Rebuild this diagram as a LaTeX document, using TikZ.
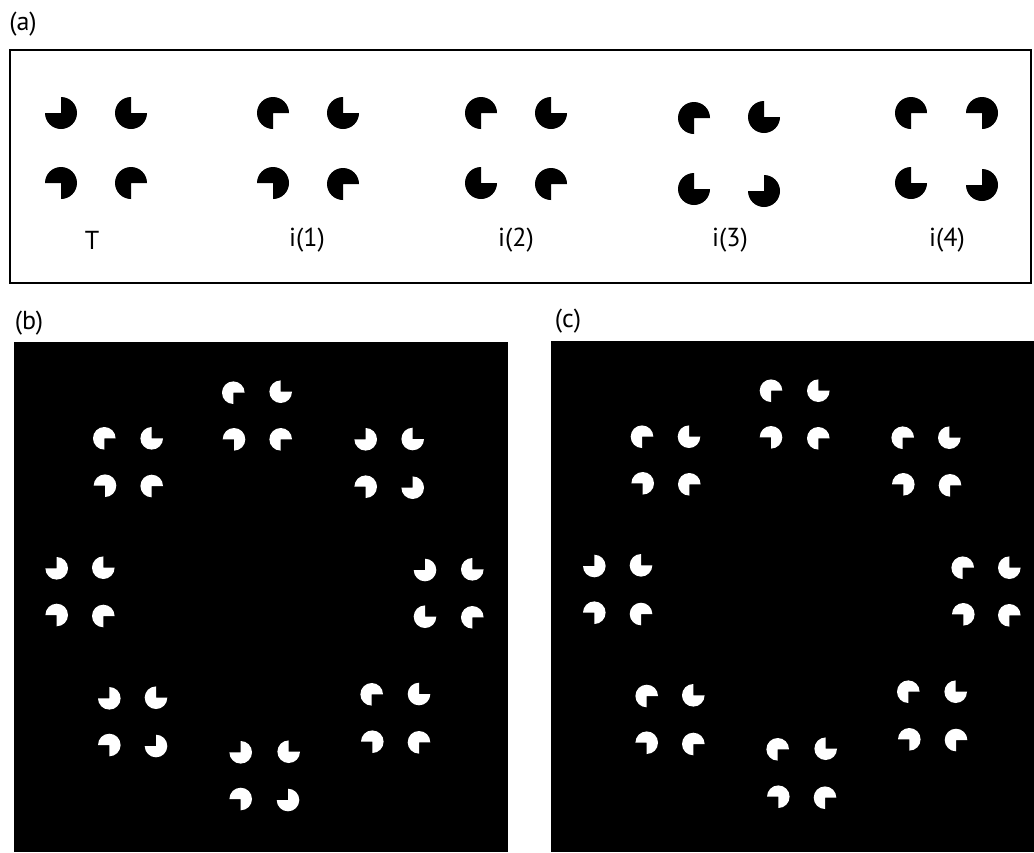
\documentclass[tikz,border=0pt]{standalone}
\usepackage{fontspec}
\setmainfont{PT Sans}
% #1 x, #2 y (pixel coords), #3 radius (pt), #4 start angle of the filled 270-degree arc
\newcommand\pacman[4]{\fill[shift={(#1,#2)}] (0,0) -- (#4:#3pt) arc[start angle=#4, delta angle=270, radius=#3pt] -- cycle;}
\begin{document}
\begin{tikzpicture}[x=1pt,y=-1pt,
  lbl/.style={font=\fontsize{26}{30}\selectfont, inner sep=0pt, anchor=center},
  panelbox/.style={draw=black, line width=2.5pt},
  panelbg/.style={fill=black}]
\useasboundingbox (0,0) rectangle (1034,852);

% ---------- panel (a) ----------
\node[lbl] (la) at (23,24) {(a)};
\draw[panelbox] (10,50) rectangle (1031,283);
\def\ra{16}
\begin{scope}[black]
% T
\pacman{61}{113}{\ra}{180}\pacman{131}{113}{\ra}{90}
\pacman{61}{183}{\ra}{270}\pacman{131}{183}{\ra}{0}
% i(1)
\pacman{273}{113}{\ra}{0}\pacman{343}{113}{\ra}{90}
\pacman{273}{183}{\ra}{270}\pacman{343}{184}{\ra}{0}
% i(2)
\pacman{481}{113}{\ra}{0}\pacman{551}{113}{\ra}{90}
\pacman{481}{183}{\ra}{90}\pacman{551}{184}{\ra}{0}
% i(3)
\pacman{694}{118}{\ra}{0}\pacman{764}{117}{\ra}{90}
\pacman{694}{189}{\ra}{90}\pacman{764}{191}{\ra}{180}
% i(4)
\pacman{911}{113}{\ra}{0}\pacman{982}{113}{\ra}{270}
\pacman{911}{183}{\ra}{90}\pacman{982}{185}{\ra}{180}
\end{scope}
\node[lbl] (lT)  at (92,240)  {T};
\node[lbl] (li1) at (307,240) {i(1)};
\node[lbl] (li2) at (516,240) {i(2)};
\node[lbl] (li3) at (730,240) {i(3)};
\node[lbl] (li4) at (947,240) {i(4)};

% ---------- panel (b) ----------
\node[lbl] (lb) at (29,323) {(b)};
\fill[panelbg] (14,342) rectangle (508,852);
\def\rb{11.3}
\begin{scope}[white]
% top
\pacman{233.3}{392.7}{\rb}{0}\pacman{280.7}{391.7}{\rb}{90}
\pacman{234}{439.3}{\rb}{270}\pacman{280.7}{439.3}{\rb}{0}
% upper-left
\pacman{104.3}{438.3}{\rb}{0}\pacman{151.7}{438.3}{\rb}{90}
\pacman{105}{485.7}{\rb}{270}\pacman{151.7}{486}{\rb}{0}
% upper-right
\pacman{365.7}{439.3}{\rb}{180}\pacman{412.7}{439}{\rb}{90}
\pacman{365.7}{486.7}{\rb}{270}\pacman{412.7}{487.7}{\rb}{180}
% left
\pacman{56.7}{568.3}{\rb}{180}\pacman{103.3}{567.7}{\rb}{90}
\pacman{56.7}{615}{\rb}{270}\pacman{103.3}{616}{\rb}{0}
% right
\pacman{425}{570}{\rb}{180}\pacman{472.3}{569.3}{\rb}{90}
\pacman{425}{616.7}{\rb}{90}\pacman{472.3}{617.3}{\rb}{0}
% lower-left
\pacman{109.3}{698.3}{\rb}{180}\pacman{156}{697.7}{\rb}{90}
\pacman{109.3}{745}{\rb}{270}\pacman{156}{746}{\rb}{180}
% bottom
\pacman{240.7}{752.3}{\rb}{180}\pacman{288.7}{751.7}{\rb}{90}
\pacman{240.7}{799}{\rb}{270}\pacman{288}{800}{\rb}{180}
% lower-right
\pacman{371.7}{694.3}{\rb}{0}\pacman{419}{694}{\rb}{90}
\pacman{372.3}{741.7}{\rb}{270}\pacman{419}{742.3}{\rb}{0}
\end{scope}

% ---------- panel (c) ----------
\node[lbl] (lc) at (568,321) {(c)};
\fill[panelbg] (551,341) rectangle (1034,852);
\begin{scope}[white]
% top
\pacman{771}{390.7}{\rb}{0}\pacman{818.3}{390.7}{\rb}{90}
\pacman{771}{437.3}{\rb}{270}\pacman{818.3}{438.3}{\rb}{0}
% upper-left
\pacman{642}{436.7}{\rb}{0}\pacman{689}{436.7}{\rb}{90}
\pacman{642.7}{483.3}{\rb}{270}\pacman{689.3}{484.3}{\rb}{0}
% upper-right
\pacman{902.7}{437.7}{\rb}{0}\pacman{949.3}{437.7}{\rb}{90}
\pacman{903.3}{484.3}{\rb}{270}\pacman{950}{485.3}{\rb}{0}
% left
\pacman{594.3}{566}{\rb}{180}\pacman{641}{565.3}{\rb}{90}
\pacman{594.3}{612.7}{\rb}{270}\pacman{641}{614}{\rb}{0}
% right
\pacman{962.7}{567.7}{\rb}{0}\pacman{1009.3}{567.7}{\rb}{90}
\pacman{963.3}{614.3}{\rb}{270}\pacman{1009.3}{615.3}{\rb}{0}
% lower-left
\pacman{646.7}{696}{\rb}{0}\pacman{693.3}{695.3}{\rb}{90}
\pacman{646.7}{742.7}{\rb}{270}\pacman{693.3}{744}{\rb}{0}
% bottom
\pacman{777.7}{749.3}{\rb}{0}\pacman{825.7}{748.7}{\rb}{90}
\pacman{778.3}{796.7}{\rb}{270}\pacman{825}{797.7}{\rb}{0}
% lower-right
\pacman{908.3}{691.7}{\rb}{0}\pacman{955.7}{691.7}{\rb}{90}
\pacman{909.3}{739.3}{\rb}{270}\pacman{956}{740}{\rb}{0}
\end{scope}
\end{tikzpicture}
\end{document}
